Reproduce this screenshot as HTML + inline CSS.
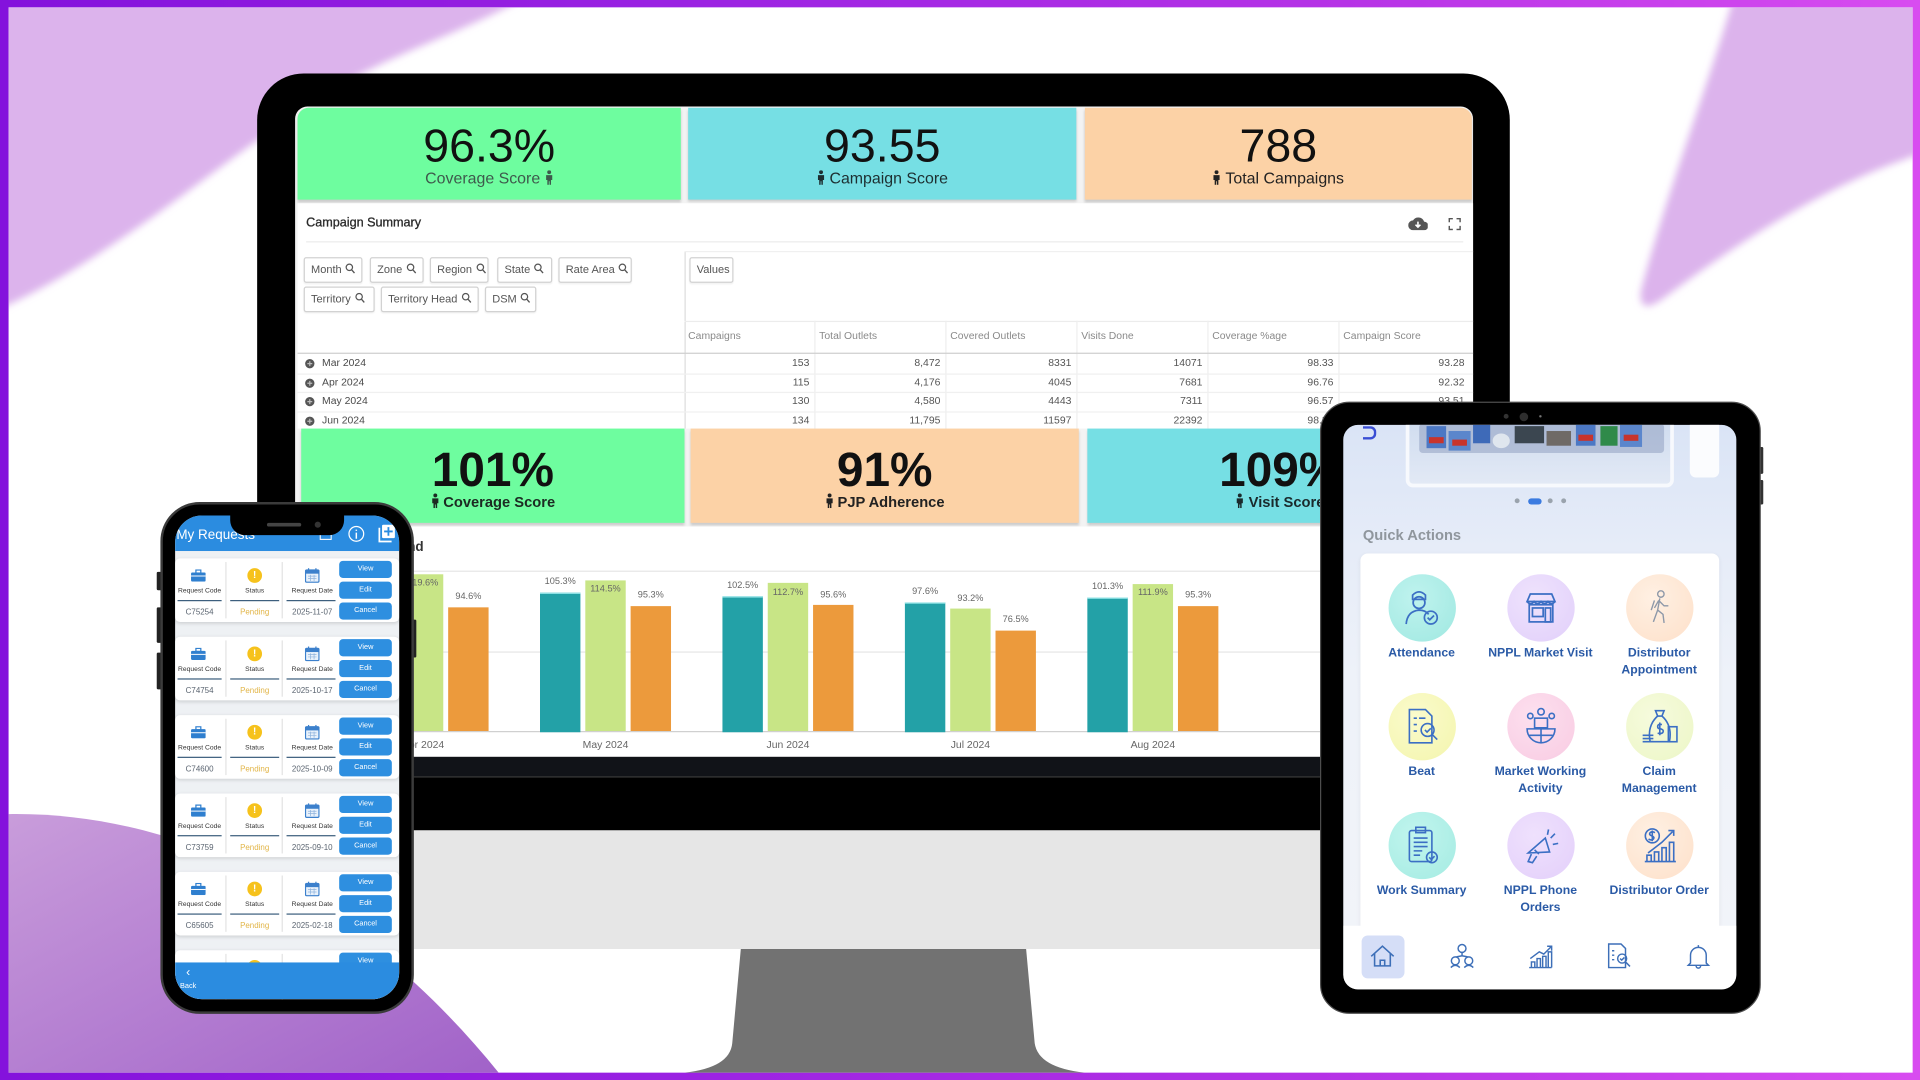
<!DOCTYPE html>
<html><head><meta charset="utf-8">
<style>
html,body{margin:0;padding:0;width:1920px;height:1080px;overflow:hidden;background:#fff}
body{font-family:"Liberation Sans",Arial,sans-serif}
#frame{position:absolute;left:0;top:0;width:1920px;height:1080px;background:linear-gradient(90deg,#8412dc 0%,#9a22e2 35%,#b633e6 70%,#d84cf0 100%)}
#s{position:absolute;left:0;top:0;width:1568px;height:882px;transform:scale(1.2244898);transform-origin:0 0}
.a{position:absolute}
.kpi{position:absolute;box-shadow:0 2px 2px rgba(0,0,0,.16)}
.num{position:absolute;text-align:center;color:#111;white-space:nowrap}
.sub{position:absolute;text-align:center;white-space:nowrap}
.chip{position:absolute;height:21px;border:1px solid #d2d2d2;border-radius:2px;box-sizing:border-box;font-size:9px;color:#555;line-height:19px;padding-left:5px;background:#fff;white-space:nowrap;box-shadow:0 1px 1px rgba(0,0,0,.05)}
.chip svg{vertical-align:-1px;margin-left:3px}
.th{position:absolute;top:269px;font-size:8.5px;color:#8a8a8a;white-space:nowrap}
.cell{position:absolute;font-size:8.5px;color:#555;text-align:right;line-height:15.7px;white-space:nowrap}
.mo{position:absolute;left:263px;font-size:8.5px;color:#4a4a4a;line-height:15.7px}
.dot{position:absolute;left:248.5px}
.bar{position:absolute;width:33px}
.t{background:#23a1a7;border-top:1px solid #9be9ec}
.g{background:#c8e586}
.o{background:#ec9a3c}
.bl{position:absolute;width:40px;margin-left:-20px;text-align:center;font-size:7.5px;color:#666;line-height:8px}
.xl{position:absolute;top:603.5px;width:60px;margin-left:-30px;text-align:center;font-size:8.5px;color:#666;line-height:9px}
.pc{position:absolute;left:0;width:183px;height:52px;background:#fff;border-radius:4px;box-shadow:0 1px 3px rgba(0,0,0,.14)}
.pl{position:absolute;top:23px;font-size:5.5px;color:#333;text-align:center;line-height:8px;white-space:nowrap}
.pv{position:absolute;top:41px;font-size:6.5px;color:#5a6470;text-align:center;line-height:8px;white-space:nowrap}
.pu{position:absolute;top:34px;height:1px;background:#3d5f7e}
.pb{position:absolute;left:134px;width:43px;height:14px;background:#2e8fe0;border-radius:3px;color:#fff;font-size:6px;line-height:14px;text-align:center}
.qc{position:absolute;width:55px;height:55px;border-radius:50%}
.qc svg{position:absolute;left:10px;top:10px}
.ql{position:absolute;width:100px;margin-left:-50px;text-align:center;font-weight:bold;font-size:10px;line-height:14px;color:#2a5aa6}
</style></head>
<body>
<div id="frame"></div>
<div id="s">
  <div class="a" style="left:6.5px;top:5.7px;width:1555px;height:870px;background:#fff;overflow:hidden">
    <svg class="a" style="left:-6.5px;top:-5.7px" width="1568" height="882">
      <defs>
        <filter id="bl" x="-20%" y="-20%" width="140%" height="140%"><feGaussianBlur stdDeviation="3"/></filter>
        <linearGradient id="bg1" x1="0" y1="0" x2="1" y2="1"><stop offset="0" stop-color="#c99ddb"/><stop offset="1" stop-color="#a061c8"/></linearGradient>
      </defs>
      <path d="M0,0 L425,0 C380,25 320,45 281,68 C215,108 170,145 125,177 C85,205 45,232 0,252 Z" fill="#dcb3ec" filter="url(#bl)"/>
      <path d="M1415,0 L1568,0 L1568,126 C1490,150 1410,205 1358,244 Q1338,258 1340,238 C1360,160 1395,70 1415,0 Z" fill="#dcb3ec" filter="url(#bl)"/>
      <path d="M0,665 C150,660 300,740 412,882 L0,882 Z" fill="url(#bg1)"/>
    </svg>
  </div>

  <!-- MONITOR -->
  <div class="a" style="left:210px;top:678px;width:1023px;height:97px;background:#e6e6e6"></div>
  <svg class="a" style="left:0;top:0" width="1568" height="882"><path d="M605,775 L838,775 L845,852 Q848,872 886,876 L559,876 Q596,872 598,852 Z" fill="#727272"/></svg>
  <div class="a" style="left:210px;top:60px;width:1023px;height:618px;background:#000;border-radius:38px 38px 0 0"></div>
  <div class="a" style="left:241px;top:87px;width:962px;height:531px;background:#f3f3f3;border-radius:10px 10px 0 0"></div>
  <div class="a" style="left:241px;top:618px;width:962px;height:16px;background:#111318;border-bottom:1px solid #3a3a3a"></div>

  <!-- KPI row 1 -->
  <div class="kpi" style="left:243px;top:88px;width:313px;height:75px;background:#6efd9f;border-radius:9px 0 0 0"></div>
  <div class="kpi" style="left:562px;top:88px;width:317px;height:75px;background:#76dfe4"></div>
  <div class="kpi" style="left:886px;top:88px;width:316px;height:75px;background:#fcd2a6;border-radius:0 9px 0 0"></div>
  <div class="num" style="left:243px;top:101px;width:313px;font-size:38px;line-height:38px">96.3%</div>
  <div class="num" style="left:562px;top:101px;width:317px;font-size:38px;line-height:38px">93.55</div>
  <div class="num" style="left:886px;top:101px;width:316px;font-size:38px;line-height:38px">788</div>
  <div class="sub" style="left:243px;top:139px;width:313px;font-size:13px;line-height:13px;color:#3e5a4c">Coverage Score <svg width="7" height="12" viewBox="0 0 7 12" style="vertical-align:-1px"><circle cx="3.5" cy="1.6" r="1.6" fill="#3e5a4c"/><path d="M1,4 h5 v4 h-1 v4 h-1.2 v-3 h-0.6 v3 h-1.2 v-4 h-1 z" fill="#3e5a4c"/></svg></div>
  <div class="sub" style="left:562px;top:139px;width:317px;font-size:13px;line-height:13px;color:#1d2f31"><svg width="7" height="12" viewBox="0 0 7 12" style="vertical-align:-1px"><circle cx="3.5" cy="1.6" r="1.6" fill="#1d2f31"/><path d="M1,4 h5 v4 h-1 v4 h-1.2 v-3 h-0.6 v3 h-1.2 v-4 h-1 z" fill="#1d2f31"/></svg> Campaign Score</div>
  <div class="sub" style="left:886px;top:139px;width:316px;font-size:13px;line-height:13px;color:#222"><svg width="7" height="12" viewBox="0 0 7 12" style="vertical-align:-1px"><circle cx="3.5" cy="1.6" r="1.6" fill="#222"/><path d="M1,4 h5 v4 h-1 v4 h-1.2 v-3 h-0.6 v3 h-1.2 v-4 h-1 z" fill="#222"/></svg> Total Campaigns</div>

  <!-- Campaign summary panel -->
  <div class="a" style="left:243px;top:166px;width:960px;height:184px;background:#fff"></div>
  <div class="a" style="left:250px;top:177px;font-size:10.3px;line-height:12px;color:#2a2a2a;-webkit-text-stroke:0.25px #2a2a2a">Campaign Summary</div>
  <svg class="a" style="left:1150px;top:177px" width="16" height="11" viewBox="0 0 16 11"><path d="M4,11 a4,4 0 0 1 0,-8 a5,5 0 0 1 9,1 a3.5,3.5 0 0 1 0,7 z" fill="#555"/><path d="M8,4 v4.5 M6,6.5 l2,2 l2,-2" stroke="#fff" stroke-width="1.3" fill="none"/></svg>
  <svg class="a" style="left:1183px;top:178px" width="10" height="10"><path d="M0.5,3.5 v-3 h3 M6.5,0.5 h3 v3 M9.5,6.5 v3 h-3 M3.5,9.5 h-3 v-3" stroke="#555" stroke-width="1.3" fill="none"/></svg>
  <div class="a" style="left:250px;top:197px;width:945px;height:1px;background:#ececec"></div>

  <div class="chip" style="left:248px;top:210px;width:48px">Month<svg width="8" height="9" viewBox="0 0 8 9"><circle cx="3.3" cy="3.3" r="2.6" fill="none" stroke="#555"/><path d="M5.2,5.3 L7.5,8" stroke="#555" stroke-width="1.1"/></svg></div>
  <div class="chip" style="left:302px;top:210px;width:44px">Zone<svg width="8" height="9" viewBox="0 0 8 9"><circle cx="3.3" cy="3.3" r="2.6" fill="none" stroke="#555"/><path d="M5.2,5.3 L7.5,8" stroke="#555" stroke-width="1.1"/></svg></div>
  <div class="chip" style="left:351px;top:210px;width:48px">Region<svg width="8" height="9" viewBox="0 0 8 9"><circle cx="3.3" cy="3.3" r="2.6" fill="none" stroke="#555"/><path d="M5.2,5.3 L7.5,8" stroke="#555" stroke-width="1.1"/></svg></div>
  <div class="chip" style="left:406px;top:210px;width:45px">State<svg width="8" height="9" viewBox="0 0 8 9"><circle cx="3.3" cy="3.3" r="2.6" fill="none" stroke="#555"/><path d="M5.2,5.3 L7.5,8" stroke="#555" stroke-width="1.1"/></svg></div>
  <div class="chip" style="left:456px;top:210px;width:60px">Rate Area<svg width="8" height="9" viewBox="0 0 8 9"><circle cx="3.3" cy="3.3" r="2.6" fill="none" stroke="#555"/><path d="M5.2,5.3 L7.5,8" stroke="#555" stroke-width="1.1"/></svg></div>
  <div class="chip" style="left:563px;top:210px;width:36px">Values</div>
  <div class="chip" style="left:248px;top:234px;width:58px">Territory<svg width="8" height="9" viewBox="0 0 8 9"><circle cx="3.3" cy="3.3" r="2.6" fill="none" stroke="#555"/><path d="M5.2,5.3 L7.5,8" stroke="#555" stroke-width="1.1"/></svg></div>
  <div class="chip" style="left:311px;top:234px;width:80px">Territory Head<svg width="8" height="9" viewBox="0 0 8 9"><circle cx="3.3" cy="3.3" r="2.6" fill="none" stroke="#555"/><path d="M5.2,5.3 L7.5,8" stroke="#555" stroke-width="1.1"/></svg></div>
  <div class="chip" style="left:396px;top:234px;width:42px">DSM<svg width="8" height="9" viewBox="0 0 8 9"><circle cx="3.3" cy="3.3" r="2.6" fill="none" stroke="#555"/><path d="M5.2,5.3 L7.5,8" stroke="#555" stroke-width="1.1"/></svg></div>

  <!-- table lines -->
  <div class="a" style="left:559px;top:205px;width:1px;height:145px;background:#dcdcdc"></div>
  <div class="a" style="left:559px;top:205px;width:644px;height:1px;background:#f0f0f0"></div>
  <div class="a" style="left:559px;top:262px;width:644px;height:1px;background:#ececec"></div>
  <div class="a" style="left:665px;top:262px;width:1px;height:88px;background:#eeeeee"></div>
  <div class="a" style="left:772px;top:262px;width:1px;height:88px;background:#eeeeee"></div>
  <div class="a" style="left:879px;top:262px;width:1px;height:88px;background:#eeeeee"></div>
  <div class="a" style="left:986px;top:262px;width:1px;height:88px;background:#eeeeee"></div>
  <div class="a" style="left:1093px;top:262px;width:1px;height:88px;background:#eeeeee"></div>
  <div class="a" style="left:243px;top:288px;width:960px;height:1.3px;background:#cfcfcf"></div>
  <div class="a" style="left:243px;top:304.5px;width:960px;height:1px;background:#f0f0f0"></div>
  <div class="a" style="left:243px;top:320px;width:960px;height:1px;background:#f0f0f0"></div>
  <div class="a" style="left:243px;top:335.5px;width:960px;height:1px;background:#f0f0f0"></div>

  <div class="th" style="left:562px">Campaigns</div>
  <div class="th" style="left:669px">Total Outlets</div>
  <div class="th" style="left:776px">Covered Outlets</div>
  <div class="th" style="left:883px">Visits Done</div>
  <div class="th" style="left:990px">Coverage %age</div>
  <div class="th" style="left:1097px">Campaign Score</div>

  <svg class="dot" style="top:292.8px" width="8" height="8" viewBox="0 0 8 8"><circle cx="4" cy="4" r="3.8" fill="#555"/><path d="M4,2 v4 M2,4 h4" stroke="#bbb" stroke-width="1"/></svg><div class="mo" style="top:289px">Mar 2024</div>
  <svg class="dot" style="top:308.5px" width="8" height="8" viewBox="0 0 8 8"><circle cx="4" cy="4" r="3.8" fill="#555"/><path d="M4,2 v4 M2,4 h4" stroke="#bbb" stroke-width="1"/></svg><div class="mo" style="top:304.7px">Apr 2024</div>
  <svg class="dot" style="top:324.2px" width="8" height="8" viewBox="0 0 8 8"><circle cx="4" cy="4" r="3.8" fill="#555"/><path d="M4,2 v4 M2,4 h4" stroke="#bbb" stroke-width="1"/></svg><div class="mo" style="top:320.4px">May 2024</div>
  <svg class="dot" style="top:339.9px" width="8" height="8" viewBox="0 0 8 8"><circle cx="4" cy="4" r="3.8" fill="#555"/><path d="M4,2 v4 M2,4 h4" stroke="#bbb" stroke-width="1"/></svg><div class="mo" style="top:336.1px">Jun 2024</div>

  <div class="cell" style="top:289px;left:559px;width:102px">153</div>
  <div class="cell" style="top:289px;left:665px;width:103px">8,472</div>
  <div class="cell" style="top:289px;left:772px;width:103px">8331</div>
  <div class="cell" style="top:289px;left:879px;width:103px">14071</div>
  <div class="cell" style="top:289px;left:986px;width:103px">98.33</div>
  <div class="cell" style="top:289px;left:1093px;width:103px">93.28</div>

  <div class="cell" style="top:304.7px;left:559px;width:102px">115</div>
  <div class="cell" style="top:304.7px;left:665px;width:103px">4,176</div>
  <div class="cell" style="top:304.7px;left:772px;width:103px">4045</div>
  <div class="cell" style="top:304.7px;left:879px;width:103px">7681</div>
  <div class="cell" style="top:304.7px;left:986px;width:103px">96.76</div>
  <div class="cell" style="top:304.7px;left:1093px;width:103px">92.32</div>

  <div class="cell" style="top:320.4px;left:559px;width:102px">130</div>
  <div class="cell" style="top:320.4px;left:665px;width:103px">4,580</div>
  <div class="cell" style="top:320.4px;left:772px;width:103px">4443</div>
  <div class="cell" style="top:320.4px;left:879px;width:103px">7311</div>
  <div class="cell" style="top:320.4px;left:986px;width:103px">96.57</div>
  <div class="cell" style="top:320.4px;left:1093px;width:103px">93.51</div>

  <div class="cell" style="top:336.1px;left:559px;width:102px">134</div>
  <div class="cell" style="top:336.1px;left:665px;width:103px">11,795</div>
  <div class="cell" style="top:336.1px;left:772px;width:103px">11597</div>
  <div class="cell" style="top:336.1px;left:879px;width:103px">22392</div>
  <div class="cell" style="top:336.1px;left:986px;width:103px">98.31</div>
  <div class="cell" style="top:336.1px;left:1093px;width:103px">93.61</div>

  <!-- KPI row 2 -->
  <div class="kpi" style="left:246px;top:350px;width:313px;height:77px;background:#6efd9f"></div>
  <div class="kpi" style="left:564px;top:350px;width:317px;height:77px;background:#fcd2a6"></div>
  <div class="kpi" style="left:888px;top:350px;width:315px;height:77px;background:#76dfe4"></div>
  <div class="num" style="left:246px;top:365px;width:313px;font-size:39px;line-height:39px;font-weight:bold">101%</div>
  <div class="num" style="left:564px;top:365px;width:317px;font-size:39px;line-height:39px;font-weight:bold">91%</div>
  <div class="num" style="left:888px;top:365px;width:315px;font-size:39px;line-height:39px;font-weight:bold">109%</div>
  <div class="sub" style="left:246px;top:403px;width:313px;font-size:12px;line-height:12px;font-weight:bold;color:#1c2a22"><svg width="7" height="12" viewBox="0 0 7 12" style="vertical-align:-1px"><circle cx="3.5" cy="1.6" r="1.6" fill="#1c2a22"/><path d="M1,4 h5 v4 h-1 v4 h-1.2 v-3 h-0.6 v3 h-1.2 v-4 h-1 z" fill="#1c2a22"/></svg> Coverage Score</div>
  <div class="sub" style="left:564px;top:403px;width:317px;font-size:12px;line-height:12px;font-weight:bold;color:#222"><svg width="7" height="12" viewBox="0 0 7 12" style="vertical-align:-1px"><circle cx="3.5" cy="1.6" r="1.6" fill="#222"/><path d="M1,4 h5 v4 h-1 v4 h-1.2 v-3 h-0.6 v3 h-1.2 v-4 h-1 z" fill="#222"/></svg> PJP Adherence</div>
  <div class="sub" style="left:888px;top:403px;width:315px;font-size:12px;line-height:12px;font-weight:bold;color:#1a2a2c"><svg width="7" height="12" viewBox="0 0 7 12" style="vertical-align:-1px"><circle cx="3.5" cy="1.6" r="1.6" fill="#1a2a2c"/><path d="M1,4 h5 v4 h-1 v4 h-1.2 v-3 h-0.6 v3 h-1.2 v-4 h-1 z" fill="#1a2a2c"/></svg> Visit Score</div>

  <!-- Chart panel -->
  <div class="a" style="left:243px;top:430px;width:960px;height:188px;background:#fff"></div>
  <div class="a" style="left:205px;top:440.5px;width:141px;text-align:right;font-size:11px;font-weight:bold;color:#333;line-height:12px">Campaign Trend</div>
  <div class="a" style="left:243px;top:466px;width:960px;height:1px;background:#e6e6e6"></div>
  <div class="a" style="left:243px;top:531.5px;width:960px;height:1px;background:#e6e6e6"></div>
  <div class="a" style="left:243px;top:597px;width:960px;height:1px;background:#d0d0d0"></div>

  <div class="bar t" style="left:292px;top:489.7px;height:107.3px"></div>
  <div class="bar g" style="left:329px;top:468.7px;height:128.3px"></div>
  <div class="bar o" style="left:366px;top:495.5px;height:101.5px"></div>
  <div class="bar t" style="left:441px;top:484px;height:113px"></div>
  <div class="bar g" style="left:478px;top:474.1px;height:122.9px"></div>
  <div class="bar o" style="left:515px;top:494.7px;height:102.3px"></div>
  <div class="bar t" style="left:590px;top:487px;height:110px"></div>
  <div class="bar g" style="left:627px;top:476.1px;height:120.9px"></div>
  <div class="bar o" style="left:664px;top:494.4px;height:102.6px"></div>
  <div class="bar t" style="left:739px;top:492.3px;height:104.7px"></div>
  <div class="bar g" style="left:776px;top:497px;height:100px"></div>
  <div class="bar o" style="left:813px;top:514.9px;height:82.1px"></div>
  <div class="bar t" style="left:888px;top:488.3px;height:108.7px"></div>
  <div class="bar g" style="left:925px;top:476.9px;height:120.1px"></div>
  <div class="bar o" style="left:962px;top:494.7px;height:102.3px"></div>

  <div class="bl" style="left:308.5px;top:480px">100.2%</div>
  <div class="bl" style="left:345.5px;top:472px">119.6%</div>
  <div class="bl" style="left:382.5px;top:483px">94.6%</div>
  <div class="bl" style="left:457.5px;top:471px">105.3%</div>
  <div class="bl" style="left:494.5px;top:477px">114.5%</div>
  <div class="bl" style="left:531.5px;top:482px">95.3%</div>
  <div class="bl" style="left:606.5px;top:474px">102.5%</div>
  <div class="bl" style="left:643.5px;top:480px">112.7%</div>
  <div class="bl" style="left:680.5px;top:482px">95.6%</div>
  <div class="bl" style="left:755.5px;top:479px">97.6%</div>
  <div class="bl" style="left:792.5px;top:485px">93.2%</div>
  <div class="bl" style="left:829.5px;top:502px">76.5%</div>
  <div class="bl" style="left:904.5px;top:475px">101.3%</div>
  <div class="bl" style="left:941.5px;top:480px">111.9%</div>
  <div class="bl" style="left:978.5px;top:482px">95.3%</div>

  <div class="xl" style="left:345.5px">Apr 2024</div>
  <div class="xl" style="left:494.5px">May 2024</div>
  <div class="xl" style="left:643.5px">Jun 2024</div>
  <div class="xl" style="left:792.5px">Jul 2024</div>
  <div class="xl" style="left:941.5px">Aug 2024</div>

  <!-- PHONE -->
  <div class="a" style="left:128px;top:467px;width:4px;height:15px;background:#222;border-radius:1px"></div>
  <div class="a" style="left:128px;top:496px;width:4px;height:29px;background:#222;border-radius:1px"></div>
  <div class="a" style="left:128px;top:533px;width:4px;height:30px;background:#222;border-radius:1px"></div>
  <div class="a" style="left:336px;top:506px;width:4px;height:31px;background:#222;border-radius:1px"></div>
  <div class="a" style="left:131px;top:410px;width:207px;height:418px;background:#000;border:2px solid #3b3b3b;box-sizing:border-box;border-radius:32px"></div>
  <div class="a" style="left:143px;top:421px;width:183px;height:395px;border-radius:22px;overflow:hidden;background:#eef1f4">
    <div class="a" style="left:0;top:0;width:183px;height:29px;background:#2b8ce0"></div>
    <div class="a" style="left:1px;top:9.5px;font-size:11px;line-height:12px;color:#fff;white-space:nowrap">My Requests</div>
    <svg class="a" style="left:118px;top:10px" width="10" height="10" viewBox="0 0 10 10"><rect x="0.5" y="1.5" width="9" height="8" fill="none" stroke="#fff" stroke-width="0.9"/><path d="M0.5,4 h9 M3,0 v3 M7,0 v3" stroke="#fff" stroke-width="0.9"/></svg>
    <svg class="a" style="left:141px;top:8px" width="14" height="14" viewBox="0 0 14 14"><circle cx="7" cy="7" r="6" fill="none" stroke="#fff" stroke-width="1"/><path d="M7,6 v5 M7,3.5 v1" stroke="#fff" stroke-width="1.2"/></svg>
    <svg class="a" style="left:166px;top:7px" width="14" height="15" viewBox="0 0 14 15"><rect x="3" y="0.5" width="10.5" height="11" rx="1" fill="#fff"/><path d="M0.8,3 v11.2 h10" stroke="#fff" stroke-width="1.4" fill="none"/><path d="M8.2,2.5 v7 M4.7,6 h7" stroke="#2b8ce0" stroke-width="1.5"/></svg>

    <div class="pc" style="top:35px">
      <div class="a" style="left:41px;top:3px;width:1px;height:46px;background:#e3e3e3"></div>
      <div class="a" style="left:87px;top:3px;width:1px;height:46px;background:#e3e3e3"></div>
      <svg class="a" style="left:13px;top:9px" width="12" height="10" viewBox="0 0 12 10"><rect x="0" y="2.5" width="12" height="7.5" rx="1" fill="#2f7fcf"/><rect x="4" y="0.5" width="4" height="2.5" fill="none" stroke="#2f7fcf"/><rect x="0" y="5" width="12" height="0.8" fill="#fff"/></svg>
      <div class="a" style="left:59px;top:7.5px;width:12px;height:12px;border-radius:50%;background:#f6c21c;color:#fff;font-weight:bold;font-size:8px;line-height:12px;text-align:center">!</div>
      <svg class="a" style="left:106px;top:8px" width="12" height="12" viewBox="0 0 12 12"><rect x="0.5" y="1.5" width="11" height="10" rx="1" fill="#e8f1fb" stroke="#3c80cc"/><rect x="0.5" y="1.5" width="11" height="3" fill="#3c80cc"/><path d="M3,0 v3 M9,0 v3" stroke="#3c80cc"/><path d="M2.5,6.5h7M2.5,8.5h7M4.5,5.5v5M7.5,5.5v5" stroke="#8fb3dd" stroke-width=".6"/></svg>
      <div class="pl" style="left:0;width:40px">Request Code</div><div class="pl" style="left:43px;width:44px">Status</div><div class="pl" style="left:89px;width:46px">Request Date</div>
      <div class="pu" style="left:2px;width:36px"></div><div class="pu" style="left:45px;width:40px"></div><div class="pu" style="left:91px;width:40px"></div>
      <div class="pv" style="left:0;width:40px">C75254</div><div class="pv" style="left:43px;width:44px;color:#e2b548">Pending</div><div class="pv" style="left:89px;width:46px">2025-11-07</div>
      <div class="pb" style="top:2px">View</div><div class="pb" style="top:19px">Edit</div><div class="pb" style="top:36px">Cancel</div>
    </div>
    <div class="pc" style="top:99px">
      <div class="a" style="left:41px;top:3px;width:1px;height:46px;background:#e3e3e3"></div>
      <div class="a" style="left:87px;top:3px;width:1px;height:46px;background:#e3e3e3"></div>
      <svg class="a" style="left:13px;top:9px" width="12" height="10" viewBox="0 0 12 10"><rect x="0" y="2.5" width="12" height="7.5" rx="1" fill="#2f7fcf"/><rect x="4" y="0.5" width="4" height="2.5" fill="none" stroke="#2f7fcf"/><rect x="0" y="5" width="12" height="0.8" fill="#fff"/></svg>
      <div class="a" style="left:59px;top:7.5px;width:12px;height:12px;border-radius:50%;background:#f6c21c;color:#fff;font-weight:bold;font-size:8px;line-height:12px;text-align:center">!</div>
      <svg class="a" style="left:106px;top:8px" width="12" height="12" viewBox="0 0 12 12"><rect x="0.5" y="1.5" width="11" height="10" rx="1" fill="#e8f1fb" stroke="#3c80cc"/><rect x="0.5" y="1.5" width="11" height="3" fill="#3c80cc"/><path d="M3,0 v3 M9,0 v3" stroke="#3c80cc"/><path d="M2.5,6.5h7M2.5,8.5h7M4.5,5.5v5M7.5,5.5v5" stroke="#8fb3dd" stroke-width=".6"/></svg>
      <div class="pl" style="left:0;width:40px">Request Code</div><div class="pl" style="left:43px;width:44px">Status</div><div class="pl" style="left:89px;width:46px">Request Date</div>
      <div class="pu" style="left:2px;width:36px"></div><div class="pu" style="left:45px;width:40px"></div><div class="pu" style="left:91px;width:40px"></div>
      <div class="pv" style="left:0;width:40px">C74754</div><div class="pv" style="left:43px;width:44px;color:#e2b548">Pending</div><div class="pv" style="left:89px;width:46px">2025-10-17</div>
      <div class="pb" style="top:2px">View</div><div class="pb" style="top:19px">Edit</div><div class="pb" style="top:36px">Cancel</div>
    </div>
    <div class="pc" style="top:163px">
      <div class="a" style="left:41px;top:3px;width:1px;height:46px;background:#e3e3e3"></div>
      <div class="a" style="left:87px;top:3px;width:1px;height:46px;background:#e3e3e3"></div>
      <svg class="a" style="left:13px;top:9px" width="12" height="10" viewBox="0 0 12 10"><rect x="0" y="2.5" width="12" height="7.5" rx="1" fill="#2f7fcf"/><rect x="4" y="0.5" width="4" height="2.5" fill="none" stroke="#2f7fcf"/><rect x="0" y="5" width="12" height="0.8" fill="#fff"/></svg>
      <div class="a" style="left:59px;top:7.5px;width:12px;height:12px;border-radius:50%;background:#f6c21c;color:#fff;font-weight:bold;font-size:8px;line-height:12px;text-align:center">!</div>
      <svg class="a" style="left:106px;top:8px" width="12" height="12" viewBox="0 0 12 12"><rect x="0.5" y="1.5" width="11" height="10" rx="1" fill="#e8f1fb" stroke="#3c80cc"/><rect x="0.5" y="1.5" width="11" height="3" fill="#3c80cc"/><path d="M3,0 v3 M9,0 v3" stroke="#3c80cc"/><path d="M2.5,6.5h7M2.5,8.5h7M4.5,5.5v5M7.5,5.5v5" stroke="#8fb3dd" stroke-width=".6"/></svg>
      <div class="pl" style="left:0;width:40px">Request Code</div><div class="pl" style="left:43px;width:44px">Status</div><div class="pl" style="left:89px;width:46px">Request Date</div>
      <div class="pu" style="left:2px;width:36px"></div><div class="pu" style="left:45px;width:40px"></div><div class="pu" style="left:91px;width:40px"></div>
      <div class="pv" style="left:0;width:40px">C74600</div><div class="pv" style="left:43px;width:44px;color:#e2b548">Pending</div><div class="pv" style="left:89px;width:46px">2025-10-09</div>
      <div class="pb" style="top:2px">View</div><div class="pb" style="top:19px">Edit</div><div class="pb" style="top:36px">Cancel</div>
    </div>
    <div class="pc" style="top:227px">
      <div class="a" style="left:41px;top:3px;width:1px;height:46px;background:#e3e3e3"></div>
      <div class="a" style="left:87px;top:3px;width:1px;height:46px;background:#e3e3e3"></div>
      <svg class="a" style="left:13px;top:9px" width="12" height="10" viewBox="0 0 12 10"><rect x="0" y="2.5" width="12" height="7.5" rx="1" fill="#2f7fcf"/><rect x="4" y="0.5" width="4" height="2.5" fill="none" stroke="#2f7fcf"/><rect x="0" y="5" width="12" height="0.8" fill="#fff"/></svg>
      <div class="a" style="left:59px;top:7.5px;width:12px;height:12px;border-radius:50%;background:#f6c21c;color:#fff;font-weight:bold;font-size:8px;line-height:12px;text-align:center">!</div>
      <svg class="a" style="left:106px;top:8px" width="12" height="12" viewBox="0 0 12 12"><rect x="0.5" y="1.5" width="11" height="10" rx="1" fill="#e8f1fb" stroke="#3c80cc"/><rect x="0.5" y="1.5" width="11" height="3" fill="#3c80cc"/><path d="M3,0 v3 M9,0 v3" stroke="#3c80cc"/><path d="M2.5,6.5h7M2.5,8.5h7M4.5,5.5v5M7.5,5.5v5" stroke="#8fb3dd" stroke-width=".6"/></svg>
      <div class="pl" style="left:0;width:40px">Request Code</div><div class="pl" style="left:43px;width:44px">Status</div><div class="pl" style="left:89px;width:46px">Request Date</div>
      <div class="pu" style="left:2px;width:36px"></div><div class="pu" style="left:45px;width:40px"></div><div class="pu" style="left:91px;width:40px"></div>
      <div class="pv" style="left:0;width:40px">C73759</div><div class="pv" style="left:43px;width:44px;color:#e2b548">Pending</div><div class="pv" style="left:89px;width:46px">2025-09-10</div>
      <div class="pb" style="top:2px">View</div><div class="pb" style="top:19px">Edit</div><div class="pb" style="top:36px">Cancel</div>
    </div>
    <div class="pc" style="top:291px">
      <div class="a" style="left:41px;top:3px;width:1px;height:46px;background:#e3e3e3"></div>
      <div class="a" style="left:87px;top:3px;width:1px;height:46px;background:#e3e3e3"></div>
      <svg class="a" style="left:13px;top:9px" width="12" height="10" viewBox="0 0 12 10"><rect x="0" y="2.5" width="12" height="7.5" rx="1" fill="#2f7fcf"/><rect x="4" y="0.5" width="4" height="2.5" fill="none" stroke="#2f7fcf"/><rect x="0" y="5" width="12" height="0.8" fill="#fff"/></svg>
      <div class="a" style="left:59px;top:7.5px;width:12px;height:12px;border-radius:50%;background:#f6c21c;color:#fff;font-weight:bold;font-size:8px;line-height:12px;text-align:center">!</div>
      <svg class="a" style="left:106px;top:8px" width="12" height="12" viewBox="0 0 12 12"><rect x="0.5" y="1.5" width="11" height="10" rx="1" fill="#e8f1fb" stroke="#3c80cc"/><rect x="0.5" y="1.5" width="11" height="3" fill="#3c80cc"/><path d="M3,0 v3 M9,0 v3" stroke="#3c80cc"/><path d="M2.5,6.5h7M2.5,8.5h7M4.5,5.5v5M7.5,5.5v5" stroke="#8fb3dd" stroke-width=".6"/></svg>
      <div class="pl" style="left:0;width:40px">Request Code</div><div class="pl" style="left:43px;width:44px">Status</div><div class="pl" style="left:89px;width:46px">Request Date</div>
      <div class="pu" style="left:2px;width:36px"></div><div class="pu" style="left:45px;width:40px"></div><div class="pu" style="left:91px;width:40px"></div>
      <div class="pv" style="left:0;width:40px">C65605</div><div class="pv" style="left:43px;width:44px;color:#e2b548">Pending</div><div class="pv" style="left:89px;width:46px">2025-02-18</div>
      <div class="pb" style="top:2px">View</div><div class="pb" style="top:19px">Edit</div><div class="pb" style="top:36px">Cancel</div>
    </div>
    <div class="pc" style="top:355px">
      <div class="a" style="left:41px;top:3px;width:1px;height:46px;background:#e3e3e3"></div>
      <div class="a" style="left:87px;top:3px;width:1px;height:46px;background:#e3e3e3"></div>
      <div class="a" style="left:59px;top:7.5px;width:12px;height:12px;border-radius:50%;background:#f6c21c"></div>
      <div class="pb" style="top:2px">View</div>
    </div>

    <div class="a" style="left:0;top:365px;width:183px;height:30px;background:#2b8ce0"></div>
    <div class="a" style="left:9px;top:369px;font-size:10px;line-height:10px;color:#fff">&#8249;</div>
    <div class="a" style="left:4px;top:382px;font-size:6px;line-height:7px;color:#fff">Back</div>
  </div>
  <div class="a" style="left:188px;top:415px;width:93px;height:22px;background:#000;border-radius:0 0 12px 12px"></div>
  <div class="a" style="left:218px;top:426.5px;width:28px;height:3px;background:#444;border-radius:2px"></div>
  <div class="a" style="left:256.5px;top:425.5px;width:5px;height:5px;background:#333;border-radius:50%"></div>

  <!-- TABLET -->
  <div class="a" style="left:1436px;top:365px;width:4px;height:22px;background:#333;border-radius:1px"></div>
  <div class="a" style="left:1436px;top:392px;width:4px;height:20px;background:#333;border-radius:1px"></div>
  <div class="a" style="left:1078px;top:328px;width:360px;height:500px;background:#000;border:1.5px solid #4d4d4d;box-sizing:border-box;border-radius:24px"></div>
  <div class="a" style="left:1228px;top:338px;width:4px;height:4px;background:#333;border-radius:50%"></div>
  <div class="a" style="left:1240.5px;top:336.5px;width:7px;height:7px;background:#2e2e2e;border-radius:50%"></div>
  <div class="a" style="left:1257px;top:339px;width:2px;height:2px;background:#777;border-radius:50%"></div>
  <div class="a" style="left:1097px;top:347px;width:321px;height:461px;border-radius:12px;overflow:hidden;background:linear-gradient(180deg,#dae4f6 0%,#e6ecf8 22%,#eef2f9 45%,#f2f4f9 100%)">
    <div class="a" style="left:16px;top:1px;width:9px;height:7px;border:2.6px solid #3a4ed4;border-left:none;border-radius:0 5px 5px 0"></div>
    <div class="a" style="left:51px;top:-8px;width:219px;height:59px;border:3px solid #f7f9fd;box-sizing:border-box;border-radius:6px;background:linear-gradient(180deg,#cfdcef,#e2e9f5);overflow:hidden">
      <div class="a" style="left:8px;top:4px;width:200px;height:24px;background:#6a7aa5;opacity:.35;border-radius:3px"></div>
      <div class="a" style="left:14px;top:6px;width:16px;height:18px;background:#4c78c4"></div>
      <div class="a" style="left:16px;top:15px;width:12px;height:5px;background:#c8342c"></div>
      <div class="a" style="left:32px;top:10px;width:18px;height:16px;background:#5b86cc"></div>
      <div class="a" style="left:35px;top:17px;width:12px;height:5px;background:#c8342c"></div>
      <div class="a" style="left:52px;top:5px;width:14px;height:15px;background:#3e6ab8"></div>
      <div class="a" style="left:68px;top:12px;width:14px;height:12px;background:#dfe6ee;border-radius:50%"></div>
      <div class="a" style="left:86px;top:6px;width:24px;height:14px;background:#3b4650"></div>
      <div class="a" style="left:112px;top:10px;width:20px;height:12px;background:#6f6a66"></div>
      <div class="a" style="left:136px;top:4px;width:16px;height:18px;background:#4c78c4"></div>
      <div class="a" style="left:138px;top:13px;width:12px;height:5px;background:#c8342c"></div>
      <div class="a" style="left:156px;top:6px;width:14px;height:16px;background:#2f8a4a"></div>
      <div class="a" style="left:172px;top:5px;width:18px;height:18px;background:#5b86cc"></div>
      <div class="a" style="left:175px;top:13px;width:12px;height:5px;background:#c8342c"></div>
    </div>
    <div class="a" style="left:283px;top:-5px;width:24px;height:48px;background:#fbfcfe;border-radius:5px"></div>
    <div class="a" style="left:140px;top:60px;width:4px;height:4px;background:#9aa3ad;border-radius:50%"></div>
    <div class="a" style="left:150.5px;top:60px;width:11px;height:4.5px;background:#3b7be0;border-radius:3px"></div>
    <div class="a" style="left:167px;top:60px;width:4px;height:4px;background:#9aa3ad;border-radius:50%"></div>
    <div class="a" style="left:178px;top:60px;width:4px;height:4px;background:#9aa3ad;border-radius:50%"></div>
    <div class="a" style="left:16px;top:84px;font-size:12px;font-weight:bold;line-height:12px;color:#8f969d;white-space:nowrap">Quick Actions</div>
    <div class="a" style="left:14px;top:105px;width:293px;height:320px;background:#fff;border-radius:6px;box-shadow:0 1px 4px rgba(0,0,0,.06)"></div>

    <div class="qc" style="left:36.5px;top:121.5px;background:radial-gradient(circle at 40% 35%,#bff3ee,#9fe8e1)"><svg width="35" height="35" viewBox="0 0 40 40" fill="none" stroke="#3b6fc4" stroke-width="1.6"><path d="M11,8 q6,-6 12,0 v4 h-12 z"/><circle cx="17" cy="15" r="5.5"/><path d="M5,35 q1,-12 12,-13 q6,0 9,4"/><circle cx="28" cy="29" r="6"/><path d="M25,29 l2,2 l4,-4"/></svg></div>
    <div class="qc" style="left:133.5px;top:121.5px;background:radial-gradient(circle at 40% 35%,#efe3fd,#e1cffa)"><svg width="35" height="35" viewBox="0 0 40 40" fill="none" stroke="#3b6fc4" stroke-width="1.6"><path d="M7,14 h26 l-3,-7 h-20 z"/><path d="M7,14 q3.25,4 6.5,0 q3.25,4 6.5,0 q3.25,4 6.5,0 q3.25,4 6.5,0"/><rect x="9" y="17" width="22" height="16"/><rect x="12" y="20" width="10" height="8"/><rect x="24" y="20" width="5" height="13"/></svg></div>
    <div class="qc" style="left:230.5px;top:121.5px;background:radial-gradient(circle at 40% 35%,#fff0e3,#fde0c9)"><svg width="35" height="35" viewBox="0 0 40 40" fill="none" stroke="#8d98a8" stroke-width="1.3"><circle cx="21" cy="7" r="3"/><path d="M20,11 l-2,11 l-4,11 M18,22 l5,4 l1,8 M19,13 l5,5 l4,0 M19,13 l-4,7 M15,13 l-3,9"/></svg></div>
    <div class="ql" style="left:64px;top:180px">Attendance</div>
    <div class="ql" style="left:161px;top:180px">NPPL Market Visit</div>
    <div class="ql" style="left:258px;top:180px">Distributor<br>Appointment</div>

    <div class="qc" style="left:36.5px;top:218.5px;background:radial-gradient(circle at 40% 35%,#fbfbcc,#f3f5ad)"><svg width="35" height="35" viewBox="0 0 40 40" fill="none" stroke="#3b6fc4" stroke-width="1.5"><path d="M8,4 h15 l6,6 v25 h-21 z"/><path d="M12,12 h3 M12,18 h3 M12,24 h3 M17,12 h6"/><circle cx="25" cy="23" r="6"/><path d="M29,27 l5,5"/><path d="M22.5,23 l2,2 l3.5,-3.5"/></svg></div>
    <div class="qc" style="left:133.5px;top:218.5px;background:radial-gradient(circle at 40% 35%,#fde0ef,#f8cbe2)"><svg width="35" height="35" viewBox="0 0 40 40" fill="none" stroke="#3b6fc4" stroke-width="1.5"><circle cx="20" cy="6" r="3"/><circle cx="10" cy="10" r="2.5"/><circle cx="30" cy="10" r="2.5"/><rect x="14" y="12" width="12" height="9"/><path d="M7,22 a13,13 0 0 0 26,0 z"/><path d="M20,22 v13 M9,28 h22"/></svg></div>
    <div class="qc" style="left:230.5px;top:218.5px;background:radial-gradient(circle at 40% 35%,#f6fbdd,#ecf6c6)"><svg width="35" height="35" viewBox="0 0 40 40" fill="none" stroke="#3b6fc4" stroke-width="1.5"><path d="M16,5 h8 l-2,5 h-4 z"/><path d="M18,10 q-10,9 -7,24 h18 q3,-15 -7,-24"/><path d="M22,18 q-4,-1 -4,2 q0,2 3,2 q3,1 2,3 q-1,2 -5,1 M20,16 v12"/><path d="M4,28 h10 M4,31 h10 M4,34 h10"/><rect x="28" y="20" width="8" height="14"/></svg></div>
    <div class="ql" style="left:64px;top:277px">Beat</div>
    <div class="ql" style="left:161px;top:277px">Market Working<br>Activity</div>
    <div class="ql" style="left:258px;top:277px">Claim<br>Management</div>

    <div class="qc" style="left:36.5px;top:315.5px;background:radial-gradient(circle at 40% 35%,#c1f5ee,#a4ebe2)"><svg width="35" height="35" viewBox="0 0 40 40" fill="none" stroke="#3b6fc4" stroke-width="1.5"><rect x="8" y="6" width="21" height="29" rx="2"/><rect x="14" y="3" width="9" height="5"/><path d="M12,13 h13 M12,17 h13 M12,21 h13 M12,25 h8 M12,29 h6"/><circle cx="29" cy="31" r="5"/><path d="M26.5,31 l2,2 l3,-3"/></svg></div>
    <div class="qc" style="left:133.5px;top:315.5px;background:radial-gradient(circle at 40% 35%,#efe1fd,#e3cffa)"><svg width="35" height="35" viewBox="0 0 40 40" fill="none" stroke="#3b6fc4" stroke-width="1.5"><path d="M8,27 l16,-14 l4,13 z"/><path d="M11,28 l-3,7 l4,1 l4,-6"/><path d="M29,13 l4,-4 M31,19 l5,-1 M26,10 l1,-5"/><path d="M14,24 l4,4"/></svg></div>
    <div class="qc" style="left:230.5px;top:315.5px;background:radial-gradient(circle at 40% 35%,#fff0e3,#fde0c9)"><svg width="35" height="35" viewBox="0 0 40 40" fill="none" stroke="#3b6fc4" stroke-width="1.5"><circle cx="13" cy="11" r="6.5"/><path d="M15.5,8 q-2.5,-1.5 -4.5,0 q-1.5,2 1.5,3 q3,1 1.5,3 q-2,1.5 -4.5,0 M13,6 v10"/><path d="M6,35 h29 M8,35 v-6 h4 v6 M15,35 v-9 h4 v9 M22,35 v-13 h4 v13 M29,35 v-18 h4 v18"/><path d="M9,27 l13,-10 l10,-10 M28,6 h5 v5"/></svg></div>
    <div class="ql" style="left:64px;top:374px">Work Summary</div>
    <div class="ql" style="left:161px;top:374px">NPPL Phone<br>Orders</div>
    <div class="ql" style="left:258px;top:374px">Distributor Order</div>

    <div class="a" style="left:0;top:409px;width:321px;height:52px;background:#fff"></div>
    <div class="a" style="left:15px;top:417px;width:35px;height:35px;background:#d5def7;border-radius:5px"></div>
    <svg class="a" style="left:21px;top:423px" width="22" height="22" viewBox="0 0 24 24" fill="none" stroke="#3d6fb8" stroke-width="1.4"><path d="M2,12 L12,3 L22,12 M5,9.5 v11 h14 v-11 M10,20.5 v-5 h4 v5"/></svg>
    <svg class="a" style="left:86px;top:423px" width="22" height="22" viewBox="0 0 24 24" fill="none" stroke="#3d6fb8" stroke-width="1.3"><circle cx="12" cy="5" r="3.5"/><circle cx="6" cy="16" r="3.5"/><circle cx="18" cy="16" r="3.5"/><path d="M12,8.5 v3 M7,12.5 l5,-1 l5,1"/><path d="M2,22 q4,-4 8,0 M14,22 q4,-4 8,0"/></svg>
    <svg class="a" style="left:150px;top:423px" width="22" height="22" viewBox="0 0 24 24" fill="none" stroke="#3d6fb8" stroke-width="1.3"><path d="M2,22 h20 M4,22 v-5 h3 v5 M9,22 v-8 h3 v8 M14,22 v-10 h3 v10 M19,22 v-14 h3 v14 M3,14 l8,-6 l4,2 l7,-7 M18,3 h4 v4"/></svg>
    <svg class="a" style="left:214px;top:423px" width="22" height="22" viewBox="0 0 24 24" fill="none" stroke="#3d6fb8" stroke-width="1.3"><path d="M3,1 h11 l4,4 v17 h-15 z"/><path d="M6,7 h2 M6,11 h2 M6,15 h2"/><circle cx="15" cy="14" r="4"/><path d="M18,17 l4,4"/><path d="M13.2,14 l1.4,1.4 l2.4,-2.4"/></svg>
    <svg class="a" style="left:279px;top:423px" width="22" height="22" viewBox="0 0 24 24" fill="none" stroke="#3d6fb8" stroke-width="1.3"><path d="M5,18 v-7 a7,7 0 0 1 14,0 v7 l2,2 h-18 z M10,20.5 a2,2 0 0 0 4,0 M12,2 v2"/></svg>
  </div>
</div>
</body></html>
